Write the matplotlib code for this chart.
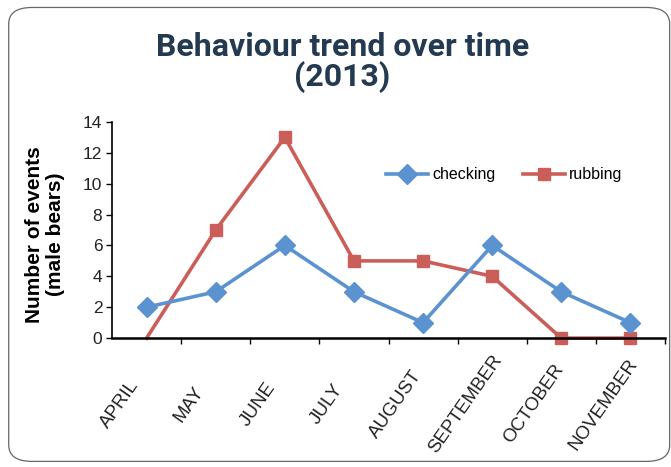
import matplotlib.pyplot as plt
from matplotlib.patches import FancyBboxPatch
from matplotlib.transforms import ScaledTranslation

months = ['APRIL', 'MAY', 'JUNE', 'JULY', 'AUGUST', 'SEPTEMBER', 'OCTOBER', 'NOVEMBER']
checking = [2, 3, 6, 3, 1, 6, 3, 1]
rubbing = [0, 7, 13, 5, 5, 4, 0, 0]

blue = '#5B93D0'
red = '#CC5E5A'

fig = plt.figure(figsize=(6.71, 4.67), dpi=100)

# rounded frame round the whole chart
frame = FancyBboxPatch((0.013, 0.012), 0.985, 0.972, boxstyle='round,pad=0,rounding_size=0.035',
                       transform=fig.transFigure, fill=False, edgecolor='#666666', linewidth=0.9)
fig.patches.append(frame)

ax = fig.add_axes([0.167, 0.276, 0.824, 0.463])
x = list(range(len(months)))
ax.plot(x, checking, color=blue, lw=2.6, marker='D', ms=10, label='checking', zorder=3,
        clip_on=False)
ax.plot(x, rubbing, color=red, lw=2.6, marker='s', ms=8.5, markevery=list(range(1, 8)),
        label='rubbing', zorder=2, clip_on=False)

ax.set_xlim(-0.5, 7.5)
ax.set_ylim(0, 14)
ax.set_yticks(range(0, 15, 2))

# month labels: rotated, bbox centred a bit left of each category, below the axis
ax.set_xticks(x)
ax.set_xticklabels([])
ax.tick_params(axis='x', which='major', length=0)
offset = ScaledTranslation(-0.27, -0.66, fig.dpi_scale_trans)
for i, m in enumerate(months):
    ax.text(i, 0, m, transform=ax.get_xaxis_transform() + offset, rotation=55,
            ha='center', va='center', fontsize=13.5, family='Liberation Sans',
            color='#222222')

ax.set_xticks([i - 0.5 for i in range(1, 9)], minor=True)
ax.tick_params(axis='x', which='minor', length=4, width=1, direction='out')
ax.tick_params(axis='y', length=4, width=1, direction='out', labelsize=12.5,
               labelcolor='#222222', pad=3)
for lab in ax.get_yticklabels():
    lab.set_family('Liberation Sans')

for s in ['top', 'right']:
    ax.spines[s].set_visible(False)
ax.spines['left'].set_linewidth(1.2)
ax.spines['bottom'].set_linewidth(1.8)

ax.set_ylabel('Number of events\n(male bears)', fontsize=15, fontweight='bold',
              family='Liberation Sans', linespacing=1.15)
ax.yaxis.set_label_coords(-0.085, 0.48)

ax.legend(loc='center left', bbox_to_anchor=(0.47, 0.755), ncol=2, frameon=False,
          handlelength=2.6, handletextpad=0.3, columnspacing=1.7,
          prop={'family': 'Liberation Sans', 'size': 11.5})

fig.text(0.51, 0.866, 'Behaviour trend over time\n(2013)', ha='center', va='center',
         fontsize=23, fontweight='bold', family='Roboto', color='#233A50', linespacing=0.95)

fig.savefig('out.png', dpi=100)
